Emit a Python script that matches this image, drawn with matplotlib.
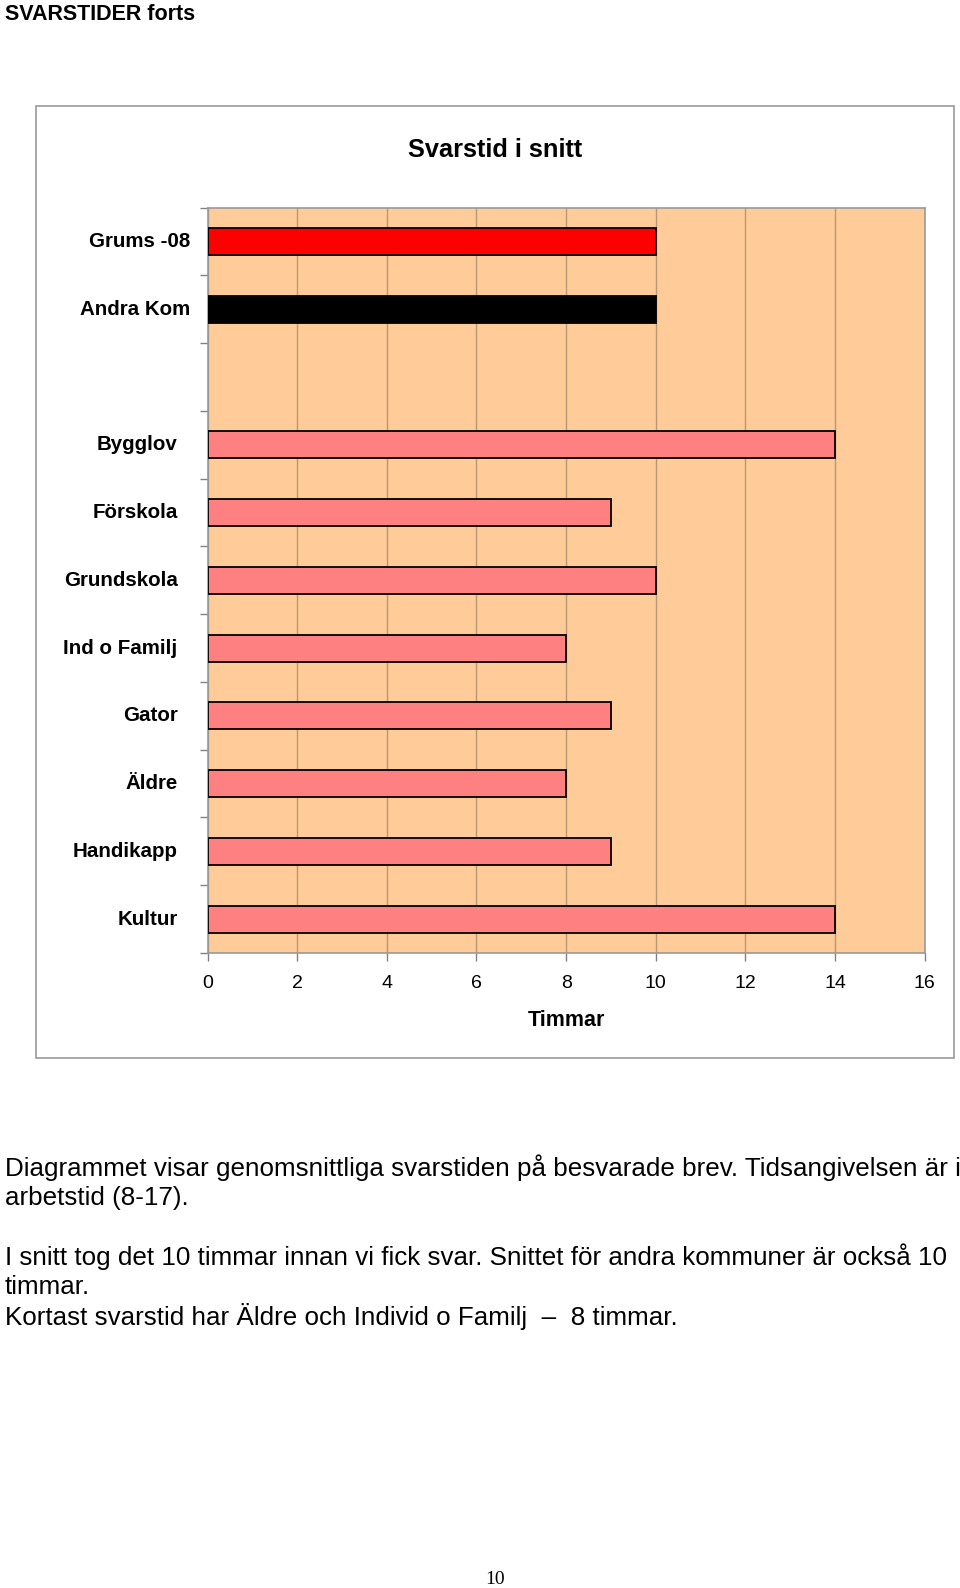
import matplotlib.pyplot as plt
from matplotlib.patches import Rectangle
from matplotlib.transforms import blended_transform_factory

# data
categories = ["Grums -08", "Andra Kom", "", "Bygglov", "Förskola", "Grundskola",
              "Ind o Familj", "Gator", "Äldre", "Handikapp", "Kultur"]
hours = [10, 10, 0, 14, 9, 10, 8, 9, 8, 9, 14]
bar_colors = ["#FF0000", "#000000", "none", "#FF8080", "#FF8080", "#FF8080",
              "#FF8080", "#FF8080", "#FF8080", "#FF8080", "#FF8080"]
x_ticks = [0, 2, 4, 6, 8, 10, 12, 14, 16]

plt.rcParams['font.family'] = ['Liberation Sans', 'DejaVu Sans']

W, H = 960, 1588
fig = plt.figure(figsize=(W / 100, H / 100), dpi=100)

# page header
fig.text(5 / W, 1 - 15 / H, "SVARSTIDER forts", fontsize=15.5, fontweight="bold",
         ha="left", va="center")

# chart frame
fig.patches.append(Rectangle((35.5 / W, 1 - 1058 / H), 918 / W, 952 / H, zorder=-1,
                             transform=fig.transFigure, fc="white", ec="#999999", lw=1.2))
fig.text(495 / W, 1 - 150 / H, "Svarstid i snitt", fontsize=18.3, fontweight="bold",
         ha="center", va="center")

ax = fig.add_axes([207.6 / W, 1 - 953 / H, 717 / W, 745.4 / H])
ax.set_facecolor("#FFCC99")
pos = list(range(len(categories)))
for p, v, c in zip(pos, hours, bar_colors):
    if c == "none":
        continue
    ax.barh(p, v, height=0.4, color=c, edgecolor="black", linewidth=1.3, zorder=3)

ax.set_xlim(0, 16)
ax.set_ylim(len(categories) - 0.5, -0.5)
ax.set_xticks(x_ticks)
ax.set_xticklabels([str(t) for t in x_ticks], fontsize=14)
ax.tick_params(axis="x", length=6, width=1, color="#808080", pad=10)
ax.grid(axis="x", color="#B89870", lw=1, zorder=1)

ax.set_yticks([p - 0.5 for p in pos] + [len(categories) - 0.5])
ax.set_yticklabels([])
ax.tick_params(axis="y", length=6, width=1, color="#808080")

trans = blended_transform_factory(ax.transAxes, ax.transData)
for i, lab in enumerate(categories):
    pad = 17 if i < 2 else 30
    ax.text(-pad / 717, i, lab, transform=trans, ha="right", va="center",
            fontsize=14.8, fontweight="bold")

for s in ax.spines.values():
    s.set_color("#999999")
    s.set_linewidth(1.2)

ax.set_xlabel("Timmar", fontsize=15.5, fontweight="bold", labelpad=13)

# text under chart
lines = [
    (1168, "Diagrammet visar genomsnittliga svarstiden på besvarade brev. Tidsangivelsen är i"),
    (1198, "arbetstid (8-17)."),
    (1257, "I snitt tog det 10 timmar innan vi fick svar. Snittet för andra kommuner är också 10"),
    (1287, "timmar."),
    (1317, "Kortast svarstid har Äldre och Individ o Familj  \u2013  8 timmar."),
]
for y, t in lines:
    fig.text(5 / W, 1 - y / H, t, fontsize=18.7, ha="left", va="center")

fig.text(495 / W, 1 - 1580 / H, "10", fontsize=14, family="Liberation Serif",
         ha="center", va="center")

fig.savefig("out.png", dpi=100)
